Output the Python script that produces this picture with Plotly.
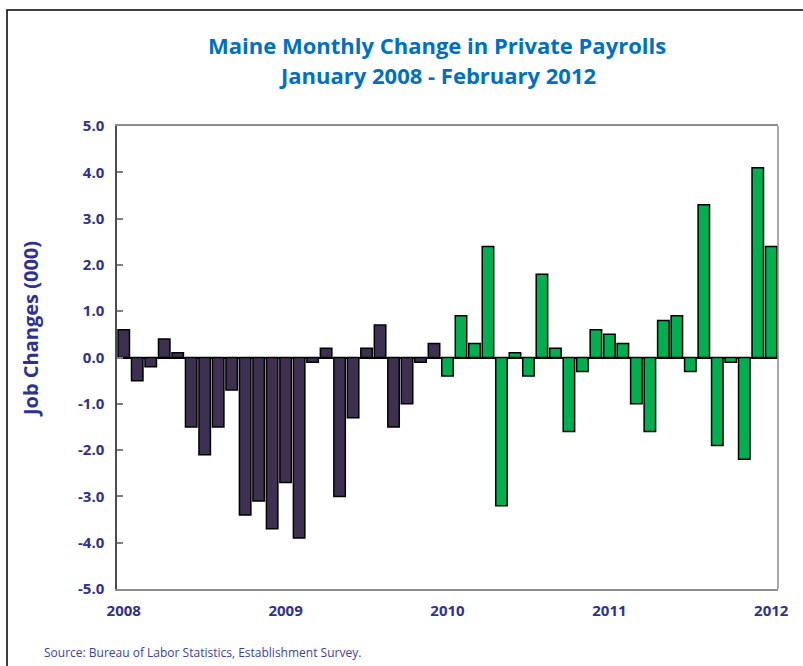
import plotly.graph_objects as go

# Monthly change in private payrolls (thousands), Jan 2008 onward
years = ["2008", "2009", "2010", "2011", "2012"]
values_2008 = [0.6, -0.5, -0.2, 0.4, 0.1, -1.5, -2.1, -1.5, -0.7, -3.4, -3.1, -3.7]
values_2009 = [-2.7, -3.9, -0.1, 0.2, -3.0, -1.3, 0.2, 0.7, -1.5, -1.0, -0.1, 0.3]
values_2010 = [-0.4, 0.9, 0.3, 2.4, -3.2, 0.1, -0.4, 1.8, 0.2, -1.6, -0.3, 0.6]
values_2011 = [0.5, 0.3, -1.0, -1.6, 0.8, 0.9, -0.3, 3.3, -1.9, -0.1, -2.2, 4.1]
values_2012 = [2.4]
months = ["Jan", "Feb", "Mar", "Apr", "May", "Jun", "Jul", "Aug", "Sep", "Oct", "Nov", "Dec"]
y_ticks = [-5, -4, -3, -2, -1, 0, 1, 2, 3, 4, 5]
y_ticktext = ["-5.0", "-4.0", "-3.0", "-2.0", "-1.0", "0.0", "1.0", "2.0", "3.0", "4.0", "5.0"]

series = [values_2008, values_2009, values_2010, values_2011, values_2012]
DARK = "#3D3050"
GREEN = "#00B050"
NAVY = "#2E3192"

cats, vals, cols = [], [], []
for yr, vs in zip(years, series):
    for i, v in enumerate(vs):
        cats.append(f"{months[i]} {yr}")
        vals.append(v)
        cols.append(DARK if int(yr) < 2010 else GREEN)

fig = go.Figure()
fig.add_trace(go.Bar(
    x=cats, y=vals,
    marker=dict(color=cols, line=dict(color="#000000", width=1.5)),
    showlegend=False,
))

W, H = 803, 666
L, R, T, B = 117, 25, 126, 77
pw, ph = W - L - R, H - T - B

def px(xp):
    return (xp - L) / pw

def py(yp):
    return (H - B - yp) / ph

fig.update_layout(
    width=W, height=H,
    margin=dict(l=L, r=R, t=T, b=B),
    paper_bgcolor="white", plot_bgcolor="white",
    bargap=0.15,
    font=dict(family="Open Sans", color=NAVY),
    xaxis=dict(
        type="category",
        range=[-0.5, len(cats) - 0.5],
        tickvals=[f"Jan {y}" for y in years],
        ticktext=years,
        tickfont=dict(size=15, color=NAVY, family="Open Sans", weight="bold"),
        showline=True, linecolor="#8C8C8C", linewidth=1.5, mirror=True,
        ticks="", showgrid=False,
        ticklabelstandoff=7,
    ),
    yaxis=dict(
        range=[-5, 5],
        tickvals=y_ticks, ticktext=y_ticktext,
        tickfont=dict(size=15, color=NAVY, family="Open Sans", weight="bold"),
        showline=True, linecolor="#4D4D4D", linewidth=1.5, mirror=False,
        ticks="inside", ticklen=6, tickcolor="#7F7F7F", tickwidth=1.5,
        showgrid=False,
        zeroline=True, zerolinecolor="#000000", zerolinewidth=1.5,
        ticklabelstandoff=8,
    ),
    shapes=[
        dict(type="rect", xref="paper", yref="paper",
             x0=px(7), x1=px(900), y0=py(700), y1=py(10),
             line=dict(color="#000000", width=1.5), layer="below"),
        dict(type="line", xref="paper", yref="paper",
             x0=1, x1=1, y0=0, y1=1,
             line=dict(color="#8C8C8C", width=1.5)),
    ],
    annotations=[
        dict(text="<b>Maine Monthly Change in Private Payrolls</b>",
             xref="paper", yref="paper", x=px(437), y=py(45),
             xanchor="center", yanchor="middle",
             showarrow=False, font=dict(size=22, color="#0070C0", family="Open Sans")),
        dict(text="<b>January 2008 - February 2012</b>",
             xref="paper", yref="paper", x=px(437), y=py(75),
             xanchor="center", yanchor="middle",
             showarrow=False, font=dict(size=22, color="#0070C0", family="Open Sans")),
        dict(text="<b>Job Changes (000)</b>", textangle=-90,
             xref="paper", yref="paper", x=px(30), y=py(329),
             xanchor="center", yanchor="middle",
             showarrow=False, font=dict(size=20, color=NAVY, family="Open Sans")),
        dict(text="Source: Bureau of Labor Statistics, Establishment Survey.",
             xref="paper", yref="paper", x=px(42), y=py(652),
             xanchor="left", yanchor="middle",
             showarrow=False, font=dict(size=12, color="#3B3FA0", family="Open Sans")),
    ],
)

fig.write_html("out.html")
